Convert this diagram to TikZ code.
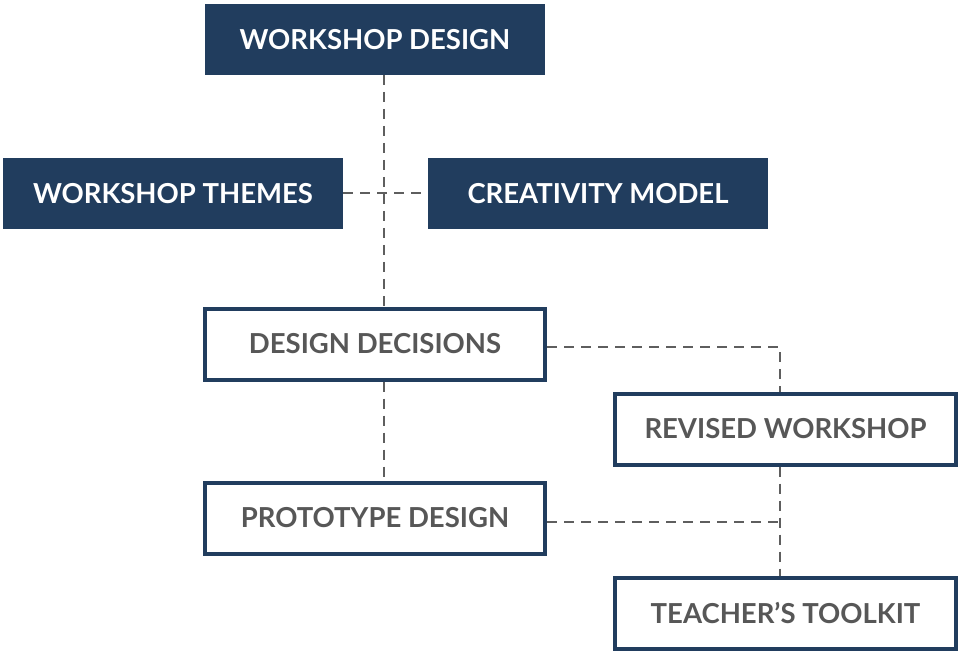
\documentclass[tikz,border=0pt]{standalone}
\usepackage{fontspec}
\setmainfont{Lato}
\usetikzlibrary{positioning}

\definecolor{navy}{HTML}{213D5E}
\definecolor{ink}{HTML}{575757}
\definecolor{wire}{HTML}{5E5E5E}

\begin{document}
\begin{tikzpicture}[x=1pt, y=-1pt,
    darkbox/.style={fill=navy, text=white, minimum width=340pt, minimum height=71pt,
      inner sep=0pt, font=\fontsize{27.5}{32}\selectfont\bfseries},
    lightbox/.style={draw=navy, line width=4pt, fill=white, text=ink, minimum width=340pt,
      minimum height=71pt, inner sep=0pt, font=\fontsize{27.5}{32}\selectfont\bfseries},
    link/.style={draw=wire, line width=2pt, dash pattern=on 10pt off 7pt}]
    \useasboundingbox (0, 0) rectangle (958, 652);
    \coordinate (spine) at (384, 0);
    \coordinate (rail) at (780, 0);
    \draw[link] (384, 75) -- (384, 308);
    \node[darkbox] (wd) at (375, 40) {WORKSHOP DESIGN};
    \node[darkbox] (wt) at (173, 193.5) {WORKSHOP THEMES};
    \node[darkbox] (cm) at (598, 193.5) {CREATIVITY MODEL};
    \node[lightbox] (dd) at (375, 344) {DESIGN DECISIONS};
    \node[lightbox, minimum width=341pt] (rw) at (785.5, 429) {REVISED WORKSHOP};
    \node[lightbox] (pd) at (375, 518) {PROTOTYPE DESIGN};
    \node[lightbox, minimum width=341pt] (tt) at (785.5, 613) {TEACHER’S TOOLKIT};
    \draw[link] (wt.east) -- (cm.west);
    \draw[link] (dd.south -| spine) -- (pd.north -| spine);
    \draw[link] ([yshift=-3pt]dd.east) -| (rw.north -| rail);
    \draw[link] (rw.south -| rail) -- (tt.north -| rail);
    \draw[link] ([yshift=-4pt]pd.east) -- ([yshift=-4pt]pd.east -| rail);
\end{tikzpicture}
\end{document}
